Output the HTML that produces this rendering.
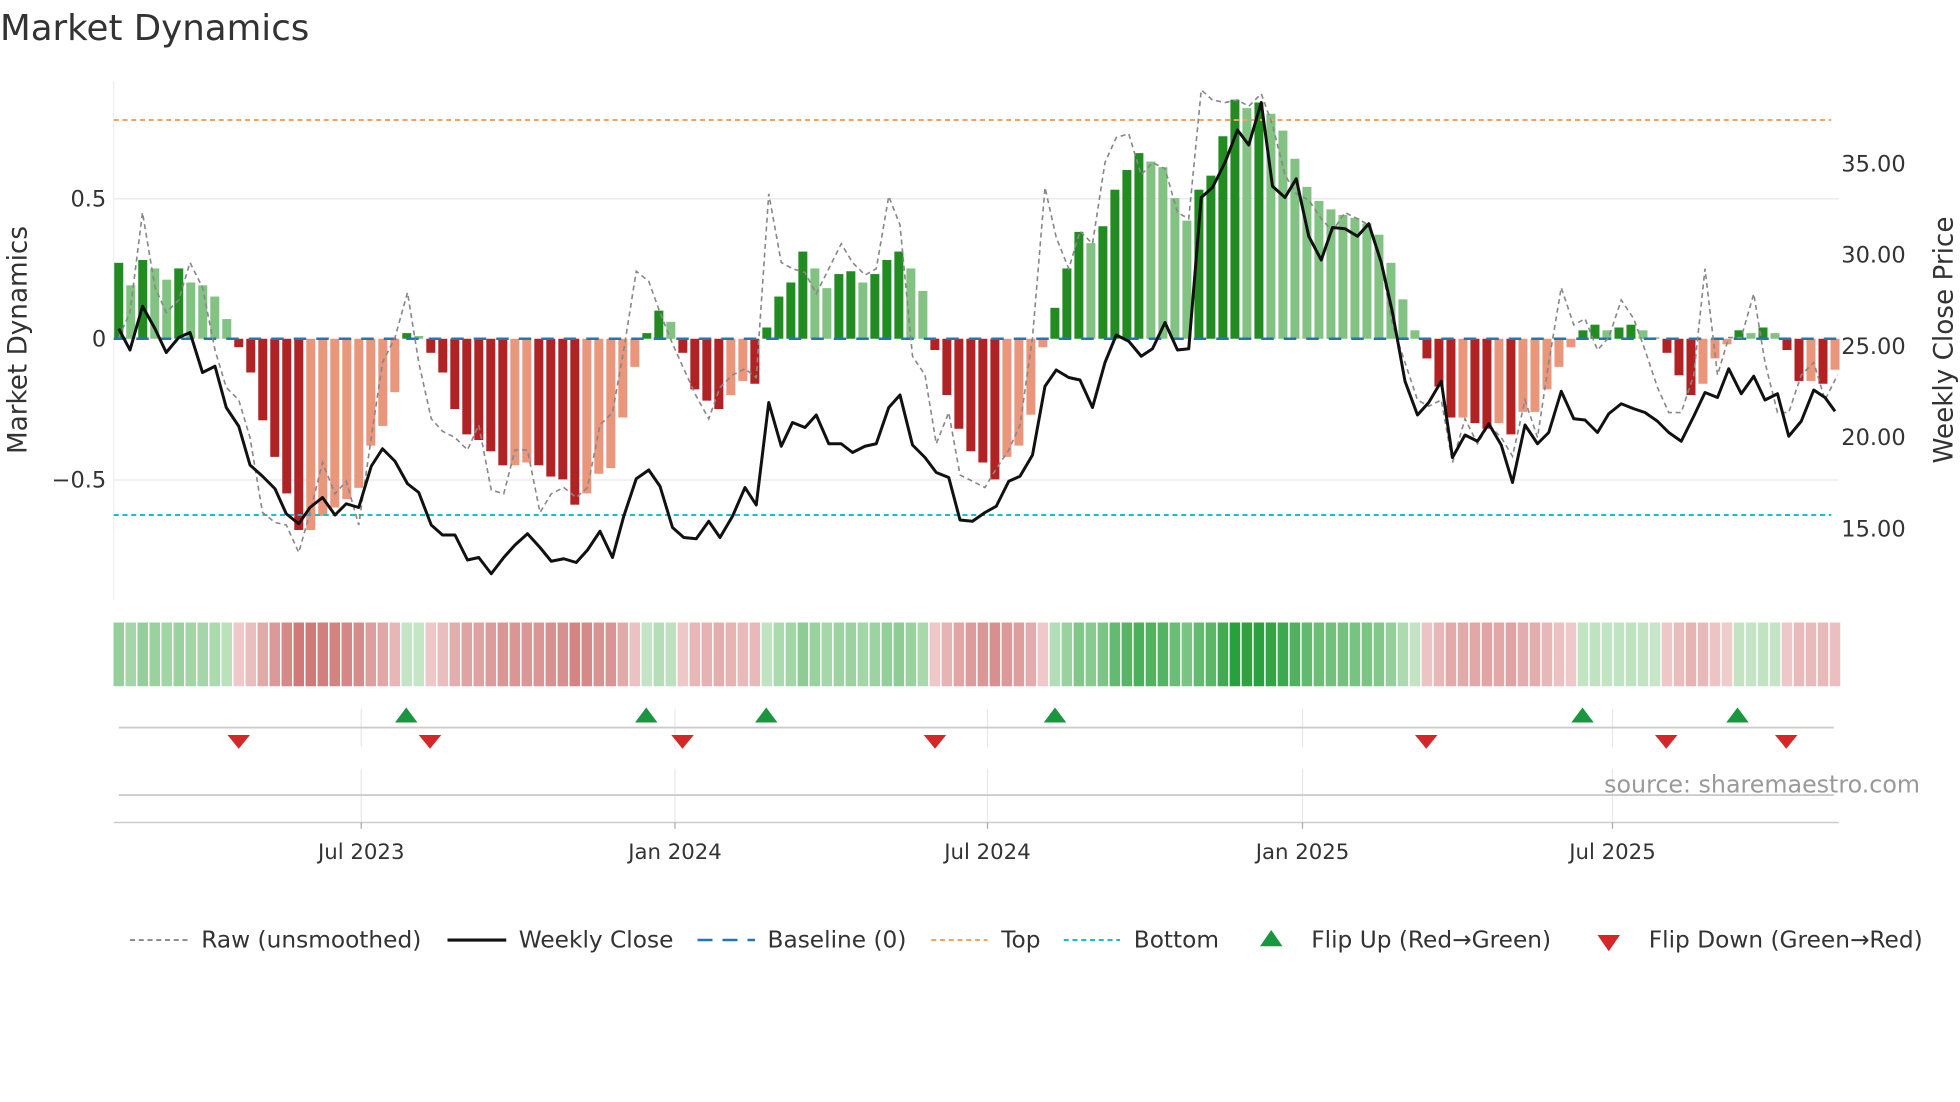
<!DOCTYPE html>
<html><head><meta charset="utf-8"><style>
html,body{margin:0;padding:0;background:#fff;}
svg{display:block;font-family:"DejaVu Sans","Liberation Sans",sans-serif;}
</style></head><body>
<svg id="c" width="1960" height="1102" viewBox="0 0 1568 881.6" xmlns="http://www.w3.org/2000/svg">
<text x="0" y="32" font-size="28.5" fill="#333">Market Dynamics</text>
<g id="grid" stroke="#e6e8f0" stroke-width="1">
<line x1="91" x2="1471" y1="159" y2="159"/><line x1="91" x2="1471" y1="384" y2="384"/>
</g>
<line x1="91" x2="91" y1="65" y2="480" stroke="#eee"/>
<g id="bars"></g>
<line x1="91" x2="1471" y1="271" y2="271" stroke="#1f77b4" stroke-width="2" stroke-dasharray="10,8"/>
<line x1="91" x2="1465" y1="96" y2="96" stroke="#f4a261" stroke-width="1.6" stroke-dasharray="4,3"/>
<line x1="91" x2="1465" y1="412" y2="412" stroke="#17becf" stroke-width="1.6" stroke-dasharray="4,3"/>
<polyline id="raw" fill="none" stroke="#888" stroke-width="1.3" stroke-dasharray="4,3"/>
<polyline id="close" fill="none" stroke="#111" stroke-width="2.4" stroke-linejoin="round"/>
<g font-size="18" fill="#333">
<text x="85" y="165" text-anchor="end">0.5</text>
<text x="85" y="277" text-anchor="end">0</text>
<text x="85" y="390" text-anchor="end">−0.5</text>
<text x="1473" y="137">35.00</text>
<text x="1473" y="210">30.00</text>
<text x="1473" y="283">25.00</text>
<text x="1473" y="356">20.00</text>
<text x="1473" y="429">15.00</text>
<text transform="translate(21,272) rotate(-90)" text-anchor="middle" font-size="21">Market Dynamics</text>
<text transform="translate(1562,272) rotate(-90)" text-anchor="middle" font-size="21">Weekly Close Price</text>
</g>
<g id="heat"></g>
<g stroke="#e8e8e8" stroke-width="1">
<line x1="289" x2="289" y1="567" y2="598"/><line x1="540" x2="540" y1="567" y2="598"/><line x1="790" x2="790" y1="567" y2="598"/><line x1="1042" x2="1042" y1="567" y2="598"/><line x1="1290" x2="1290" y1="567" y2="598"/>
<line x1="289" x2="289" y1="615" y2="658"/><line x1="540" x2="540" y1="615" y2="658"/><line x1="790" x2="790" y1="615" y2="658"/><line x1="1042" x2="1042" y1="615" y2="658"/><line x1="1290" x2="1290" y1="615" y2="658"/>
</g>
<line x1="95" x2="1467" y1="582" y2="582" stroke="#ccc" stroke-width="1.5"/>
<line x1="95" x2="1467" y1="636" y2="636" stroke="#ccc" stroke-width="1.5"/>
<line x1="91" x2="1471" y1="658" y2="658" stroke="#ccc" stroke-width="1.2"/>
<g stroke="#aaa"><line x1="289" x2="289" y1="658" y2="663"/><line x1="540" x2="540" y1="658" y2="663"/><line x1="790" x2="790" y1="658" y2="663"/><line x1="1042" x2="1042" y1="658" y2="663"/><line x1="1290" x2="1290" y1="658" y2="663"/></g>
<g id="tri"></g>
<text x="1536" y="634" font-size="19" fill="#999" text-anchor="end">source: sharemaestro.com</text>
<g font-size="17" fill="#333" text-anchor="middle">
<text x="289" y="687">Jul 2023</text><text x="540" y="687">Jan 2024</text><text x="790" y="687">Jul 2024</text><text x="1042" y="687">Jan 2025</text><text x="1290" y="687">Jul 2025</text>
</g>
<g font-size="18.6" fill="#333">
<line x1="104" x2="150" y1="752" y2="752" stroke="#888" stroke-width="1.5" stroke-dasharray="4,3"/><text x="161" y="758">Raw (unsmoothed)</text>
<line x1="358" x2="405" y1="752" y2="752" stroke="#111" stroke-width="2.5"/><text x="415" y="758">Weekly Close</text>
<line x1="558" x2="604" y1="752" y2="752" stroke="#1f77b4" stroke-width="2" stroke-dasharray="12,8"/><text x="614" y="758">Baseline (0)</text>
<line x1="745" x2="790" y1="752" y2="752" stroke="#f4a261" stroke-width="1.6" stroke-dasharray="4,3"/><text x="801" y="758">Top</text>
<line x1="851" x2="896" y1="752" y2="752" stroke="#17becf" stroke-width="1.6" stroke-dasharray="4,3"/><text x="907" y="758">Bottom</text>
<polygon points="1008,757 1026,757 1017,744" fill="#1a9641"/><text x="1049" y="758">Flip Up (Red→Green)</text>
<polygon points="1278,748 1296,748 1287,761" fill="#d62728"/><text x="1319" y="758">Flip Down (Green→Red)</text>
</g>
</svg>
<script>
var NS="http://www.w3.org/2000/svg";
function el(t,a,p){var e=document.createElementNS(NS,t);for(var k in a)e.setAttribute(k,a[k]);p.appendChild(e);return e;}
var v=[0.27,0.19,0.28,0.25,0.21,0.25,0.2,0.19,0.15,0.07,-0.03,-0.12,-0.29,-0.42,-0.55,-0.68,-0.68,-0.63,-0.6,-0.57,-0.53,-0.38,-0.31,-0.19,0.02,0.01,-0.05,-0.12,-0.25,-0.34,-0.36,-0.4,-0.45,-0.45,-0.44,-0.45,-0.49,-0.5,-0.59,-0.55,-0.48,-0.46,-0.28,-0.1,0.02,0.1,0.06,-0.05,-0.18,-0.22,-0.25,-0.2,-0.15,-0.16,0.04,0.15,0.2,0.31,0.25,0.18,0.23,0.24,0.2,0.23,0.28,0.31,0.25,0.17,-0.04,-0.2,-0.32,-0.4,-0.44,-0.5,-0.42,-0.38,-0.27,-0.03,0.11,0.25,0.38,0.34,0.4,0.53,0.6,0.66,0.63,0.61,0.5,0.42,0.53,0.58,0.72,0.85,0.82,0.84,0.8,0.74,0.64,0.54,0.49,0.46,0.44,0.43,0.41,0.37,0.27,0.14,0.03,-0.07,-0.17,-0.28,-0.28,-0.3,-0.32,-0.3,-0.34,-0.26,-0.26,-0.18,-0.1,-0.03,0.03,0.05,0.03,0.04,0.05,0.03,0.005,-0.05,-0.13,-0.2,-0.16,-0.07,-0.02,0.03,0.02,0.04,0.02,-0.04,-0.15,-0.15,-0.16,-0.11];
var n=v.length,x0=95,x1=1468,st=(x1-x0)/(n-1);
var bars=document.getElementById('bars'),heat=document.getElementById('heat');
for(var i=0;i<n;i++){
 var x=x0+i*st,val=v[i],prev=i?v[i-1]:val-0.01,up=val>=prev;
 var y=271-val*225,h=Math.abs(val*225);
 var col=val>=0?(up?'#228b22':'#82c282'):(up?'#e9967a':'#b22222');
 el('rect',{x:x-3.6,y:Math.min(y,271),width:7.2,height:Math.max(h,1),fill:col},bars);
 var a=Math.min(1,Math.abs(val)/0.85);
 var hc;
 if(val>=0){var r=Math.round(200-160*a),g=Math.round(230-70*a),b=Math.round(200-140*a);hc='rgb('+r+','+g+','+b+')';}
 else{var r=Math.round(240-40*a),g=Math.round(205-105*a),b=Math.round(205-105*a);hc='rgb('+r+','+g+','+b+')';}
 el('rect',{x:x-st/2+0.6,y:498,width:st-1.2,height:51,fill:hc},heat);
}
function pts(a){var s=[];for(var i=0;i<a.length;i+=2)s.push(a[i]+','+a[i+1]);return s.join(' ');}
var cl=[95,263,104,280,114,245,124,263,133,282,143,270,152,266,162,298,172,293,181,326,191,341,200,372,210,381,220,391,229,411,239,419,248,406,258,398,268,412,277,403,287,406,297,373,306,359,316,369,326,387,335,394,345,420,354,428,364,428,374,448,383,446,393,459,403,446,412,436,422,427,432,438,441,449,451,447,461,450,470,440,480,425,490,446,499,413,509,383,519,376,528,389,538,422,547,430,557,431,567,417,576,430,586,413,596,390,605,404,615,322,625,357,634,338,644,342,653,332,663,355,673,355,682,362,692,357,701,355,711,326,720,316,730,356,740,366,749,378,759,382,768,416,778,417,788,410,797,405,807,385,816,381,826,364,836,309,845,296,855,302,864,304,874,326,884,290,893,268,903,273,913,285,922,279,932,258,942,280,951,279,961,158,970,150,980,130,990,104,999,116,1009,82,1018,149,1028,158,1037,143,1047,189,1057,208,1066,182,1076,183,1086,189,1095,179,1105,210,1114,250,1124,305,1134,332,1143,322,1153,305,1162,366,1172,348,1182,353,1191,339,1201,356,1210,386,1220,340,1230,355,1239,346,1249,313,1259,335,1268,336,1278,346,1287,331,1297,323,1307,327,1316,330,1326,337,1335,346,1345,353,1355,333,1364,314,1374,318,1383,295,1393,315,1403,301,1412,320,1422,315,1431,349,1441,337,1451,312,1460,318,1468,329];
var rw=[95,270,104,250,114,170,124,230,133,250,143,240,152,210,162,230,172,280,181,310,191,320,200,350,210,410,220,418,229,420,239,442,248,410,258,370,268,395,277,385,287,420,297,350,306,290,316,270,326,234,335,290,345,335,354,345,364,350,374,360,383,340,393,392,403,395,412,360,422,360,432,410,441,395,451,390,461,398,470,390,480,340,490,330,499,280,509,217,519,225,528,250,538,275,547,295,557,317,567,335,576,310,586,300,596,295,605,302,615,155,625,210,634,215,644,218,653,235,663,215,673,195,682,210,692,220,701,215,711,157,720,180,730,285,740,300,749,355,759,330,768,380,778,385,788,390,797,375,807,360,816,340,826,270,836,150,845,190,855,215,864,185,874,195,884,130,893,110,903,107,913,140,922,130,932,135,942,170,951,175,961,72,970,80,980,82,990,80,999,85,1009,75,1018,100,1028,140,1037,155,1047,160,1057,175,1066,185,1076,170,1086,175,1095,180,1105,210,1114,260,1124,290,1134,320,1143,325,1153,320,1162,370,1172,335,1182,355,1191,340,1201,350,1210,365,1220,320,1230,350,1239,290,1249,230,1259,260,1268,255,1278,280,1287,270,1297,240,1307,255,1316,280,1326,310,1335,330,1345,330,1355,300,1364,215,1374,300,1383,270,1393,270,1403,235,1412,290,1422,330,1431,330,1441,300,1451,290,1460,320,1470,300];
document.getElementById('close').setAttribute('points',pts(cl));
document.getElementById('raw').setAttribute('points',pts(rw));
var tri=document.getElementById('tri');
[325,517,613,844,1266,1390].forEach(function(x){el('polygon',{points:(x-9)+',578 '+(x+9)+',578 '+x+',566',fill:'#1a9641'},tri);});
[191,344,546,748,1141,1333,1429].forEach(function(x){el('polygon',{points:(x-9)+',588 '+(x+9)+',588 '+x+',599',fill:'#d62728'},tri);});
</script>
</body></html>
